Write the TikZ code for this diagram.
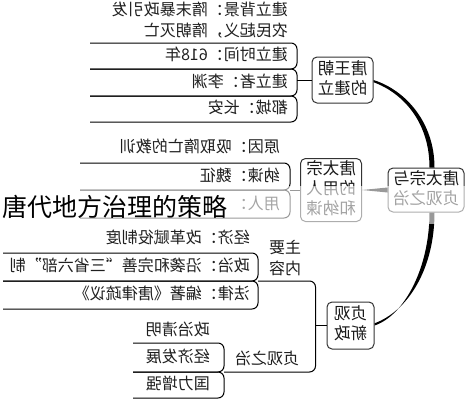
\documentclass[tikz,border=0pt]{standalone}
\usepackage{fontspec}
\usepackage{graphicx}
\setmainfont{Noto Sans CJK SC}
\usetikzlibrary{positioning,calc}

% mirrored text block (the whole chart is drawn as a mirror image)
\newcommand{\mirtext}[2][c]{\reflectbox{\begin{tabular}{@{}#1@{}}#2\end{tabular}}}

\begin{document}
\begin{tikzpicture}[x=1pt,y=-1pt,
  topicbox/.style={draw=black!80,line width=1pt,rounded corners=5pt,inner sep=0pt,
    text=black!90,font=\fontsize{16.5}{20}\selectfont},
  itemtext/.style={anchor=east,inner sep=0pt,text=black!88,font=\fontsize{16}{21}\selectfont},
  cellline/.style={line width=1pt,rounded corners=6pt},
  link/.style={line width=1pt}]
\useasboundingbox (0,0) rectangle (469,400);
% central topic and the four main topics
\node[topicbox,minimum width=76pt,minimum height=44pt] (root) at (426,190) {\mirtext{唐太宗与\\贞观之治}};
\node[topicbox,minimum width=61pt,minimum height=46pt] (jl) at (342.5,80) {\mirtext{唐王朝\\的建立}};
\node[topicbox,minimum width=61pt,minimum height=63pt] (yr) at (331,190) {\mirtext{唐太宗\\的用人\\和纳谏}};
\node[topicbox,minimum width=47pt,minimum height=47pt] (xz) at (350.5,325.5) {\mirtext{贞观\\新政}};
% tapered branches from the centre
\fill (jl.east) .. controls +(32,10) and +(0,-45) .. ($(root.north)+(8.5,0)$)
  -- ($(root.north)+(3.5,0)$) .. controls +(0,-45) and +(30,11) .. ($(jl.east)+(0,2.2)$) -- cycle;
\fill ($(root.south)+(3.5,0)$) .. controls +(0,55) and +(30,-10) .. (xz.east)
  -- ($(xz.east)+(0,-2.2)$) .. controls +(33,-12) and +(0,57) .. ($(root.south)+(8.5,0)$) -- cycle;
\fill (yr.east) -- ($(root.west)+(0,-2.5)$) -- ($(root.west)+(0,2.5)$) -- cycle;
% 唐王朝的建立
\foreach \ya/\yb in {43/69,69/96,96/122}
  \draw[cellline] (90,\ya) -| (297,\yb) -- (90,\yb);
\coordinate (jlb) at (297,80);
\draw[link] (jlb) -- (jl.west);
\node[itemtext] (bja) at (288,11) {\mirtext{建立背景：隋末暴政引发}};
\node[itemtext] (bjb) at (288,32) {\mirtext{农民起义，隋朝灭亡}};
\node[itemtext] (sj) at (288,56) {\mirtext{建立时间：618年}};
\node[itemtext] (jlz) at (288,83) {\mirtext{建立者：李渊}};
\node[itemtext] (dc) at (288,109) {\mirtext{都城：长安}};
% 唐太宗的用人和纳谏
\foreach \ya/\yb in {163/190,190/218}
  \draw[cellline] (80,\ya) -| (290,\yb) -- (80,\yb);
\coordinate (yrb) at (290,190);
\draw[link] (yrb) -- (yr.west);
\node[itemtext] (yy) at (280,148) {\mirtext{原因：吸取隋亡的教训}};
\node[itemtext] (nj) at (280,177) {\mirtext{纳谏：魏征}};
\node[itemtext] (yong) at (280,205) {\mirtext{用人：}};
% 贞观新政: 主要内容 and 贞观之治
\coordinate (zyb) at (258,281);
\coordinate (zgb) at (224,372);
\coordinate (xzj) at ($(xz.west)+(-11,0)$);
\draw[cellline] (zyb) -| (xzj) |- (zgb);
\draw[link] (xzj) -- (xz.west);
\node[itemtext,anchor=center] (zy) at (285,260) {\mirtext{主要\\内容}};
\node[itemtext,anchor=center] (zg) at (267,360) {\mirtext{贞观之治}};
\foreach \ya/\yb in {253/281,281/309}
  \draw[cellline] (3,\ya) -| (258,\yb) -- (3,\yb);
\node[itemtext] (jj) at (250,239) {\mirtext{经济：改革赋役制度}};
\node[itemtext] (zz) at (250,267) {\mirtext{政治：沿袭和完善“三省六部”制}};
\node[itemtext] (fl) at (250,295) {\mirtext{法律：编著《唐律疏议》}};
\foreach \ya/\yb in {343/372,372/398}
  \draw[cellline] (133,\ya) -| (224,\yb) -- (133,\yb);
\node[itemtext] (zzqm) at (210,331) {\mirtext{政治清明}};
\node[itemtext] (jjfz) at (210,358) {\mirtext{经济发展}};
\node[itemtext] (glzq) at (210,385) {\mirtext{国力增强}};
% pale band with the caption on top
\fill[white,opacity=0.6] (0,186) rectangle (469,224);
\node[anchor=west,inner sep=0pt,font=\fontsize{25}{25}\selectfont] (title) at (2,207) {唐代地方治理的策略};
\end{tikzpicture}
\end{document}
